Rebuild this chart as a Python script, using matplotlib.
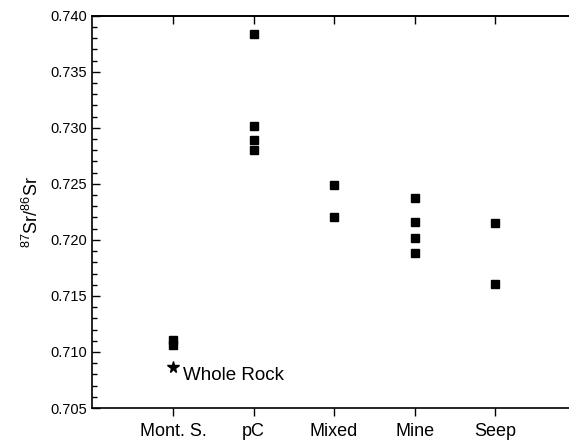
import matplotlib.pyplot as plt
from matplotlib.ticker import MultipleLocator, FormatStrFormatter

plt.rcParams['font.family'] = ['Liberation Sans', 'DejaVu Sans']

categories = ['Mont. S.', 'pC', 'Mixed', 'Mine', 'Seep']
mont_s = [0.7111, 0.7106]
pc = [0.7384, 0.7302, 0.7289, 0.7280]
mixed = [0.7249, 0.7220]
mine = [0.7237, 0.7216, 0.7202, 0.7188]
seep = [0.7215, 0.7161]
whole_rock = 0.70868

groups = [mont_s, pc, mixed, mine, seep]


def main():
    fig = plt.figure(figsize=(5.69, 4.43), dpi=100)
    ax = fig.add_axes([0.1622, 0.079, 0.85, 0.8855])

    for i, vals in enumerate(groups):
        ax.plot([i + 1] * len(vals), vals, 's', color='black',
                markersize=6.3, linestyle='none')
    ax.plot([1], [whole_rock], '*', color='black', markersize=8.5)
    ax.text(1.12, whole_rock, 'Whole Rock', fontsize=13.5, va='top',
            ha='left')

    ax.set_xlim(0, 6)
    ax.set_ylim(0.705, 0.740)
    ax.set_xticks(range(1, 6))
    ax.set_xticklabels(categories, fontsize=13)
    ax.yaxis.set_major_locator(MultipleLocator(0.005))
    ax.yaxis.set_minor_locator(MultipleLocator(0.001))
    ax.yaxis.set_major_formatter(FormatStrFormatter('%.3f'))
    ax.tick_params(axis='y', which='major', direction='in', length=6,
                   width=1, labelsize=10.5)
    ax.tick_params(axis='y', which='minor', direction='in', length=3.5,
                   width=1)
    ax.tick_params(axis='x', which='major', direction='out', length=6,
                   width=1, pad=5)

    # top axis: same category ticks pointing inward, no labels
    top = ax.secondary_xaxis('top')
    top.set_xticks(range(1, 6))
    top.tick_params(direction='in', length=6, width=1, labeltop=False)
    top.spines['top'].set_linewidth(1.2)

    ax.spines['right'].set_visible(False)
    for s in ['left', 'top', 'bottom']:
        ax.spines[s].set_linewidth(1.2)
    ax.set_ylabel(r'$\mathregular{^{87}Sr/^{86}Sr}$', fontsize=13,
                  labelpad=6)

    fig.savefig('out.png', dpi=100)


if __name__ == '__main__':
    main()
